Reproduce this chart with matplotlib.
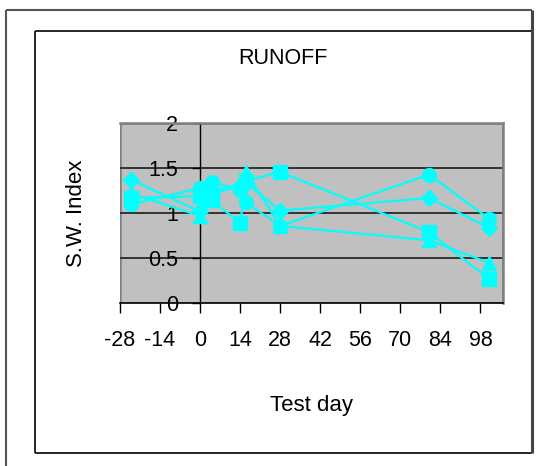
import matplotlib
matplotlib.use("Agg")
import matplotlib.pyplot as plt
from matplotlib.lines import Line2D
from matplotlib.patches import Rectangle

plt.rcParams['font.family'] = ['Liberation Sans', 'DejaVu Sans']

# Test days and S.W. index values per plot
days = [-24, 0, 4, 14, 16, 28, 80, 101]
diamond_vals = [1.37, 1.02, 1.22, 1.30, 1.34, 1.03, 1.17, 0.84]
square_vals = [1.17, 1.19, 1.15, 0.89, 1.36, 1.46, 0.79, 0.27]
triangle_vals = [1.22, 0.97, 1.25, 1.32, 1.46, 0.86, 0.70, 0.45]
circle_vals = [1.10, 1.28, 1.35, 1.26, 1.12, 0.86, 1.43, 0.94]

x_ticks = [-28, -14, 0, 14, 28, 42, 56, 70, 84, 98]
y_ticks = [0, 0.5, 1, 1.5, 2]

W, H = 558, 466
fig = plt.figure(figsize=(W / 100, H / 100), dpi=100)

# page frame and chart frame
def px_line(x0, y0, x1, y1, lw, color):
    fig.add_artist(Line2D([x0 / W, x1 / W], [1 - y0 / H, 1 - y1 / H],
                          transform=fig.transFigure, color=color, lw=lw,
                          solid_capstyle='butt'))

px_line(6, 10, 6, 466, 1.5, '#555555')
px_line(6, 10, 532, 10, 1.5, '#555555')
px_line(35, 31, 35, 453, 1.2, 'black')
px_line(35, 31, 532, 31, 1.2, 'black')
px_line(35, 453, 532, 453, 1.2, 'black')
px_line(532, 10, 532, 453, 2.2, '#444444')

ax = fig.add_axes([120 / W, 1 - 303.3 / H, (503.3 - 120) / W, (303.3 - 123.3) / H])
ax.set_facecolor('#C0C0C0')
ax.set_xlim(-28, 106)
ax.set_ylim(0, 2)

for y in [0.5, 1, 1.5]:
    ax.axhline(y, color='#333333', lw=1.4, zorder=1)

cyan = '#00FFFF'
for vals, mk, ms in [(diamond_vals, 'D', 8),
                     (square_vals, 's', 9.5),
                     (triangle_vals, '^', 10),
                     (circle_vals, 'o', 10)]:
    ax.plot(days, vals, color=cyan, lw=1.6, marker=mk, ms=ms,
            markeredgecolor=cyan, markerfacecolor=cyan, zorder=3, clip_on=False)

for s in ['top', 'right']:
    ax.spines[s].set_color('#808080')
    ax.spines[s].set_linewidth(1.8)
ax.spines['left'].set_position(('data', 0))
ax.spines['left'].set_color('black')
ax.spines['left'].set_linewidth(1.0)
ax.spines['bottom'].set_color('black')
ax.spines['bottom'].set_linewidth(1.2)

# grey frame on the left edge of the plot area
ax.add_patch(Rectangle((0, 0), 1, 1, transform=ax.transAxes, fill=False,
                       edgecolor='#808080', lw=1.8, zorder=0.5))

ax.set_xticks(x_ticks)
ax.set_xticklabels([str(t) for t in x_ticks])
ax.set_yticks(y_ticks)
ax.set_yticklabels(['0', '0.5', '1', '1.5', '2'])
ax.tick_params(axis='x', direction='out', length=7, width=1, pad=12, labelsize=15.5)
ax.tick_params(axis='y', direction='out', length=6, width=1, pad=10, labelsize=15.5)

fig.text(283 / W, 1 - 58 / H, 'RUNOFF', ha='center', va='center', fontsize=15.5)
fig.text(312 / W, 1 - 405 / H, 'Test day', ha='center', va='center', fontsize=16)
fig.text(76 / W, 1 - 213 / H, 'S.W. Index', ha='center', va='center',
         rotation=90, fontsize=16)

fig.savefig('out.png', dpi=100)
